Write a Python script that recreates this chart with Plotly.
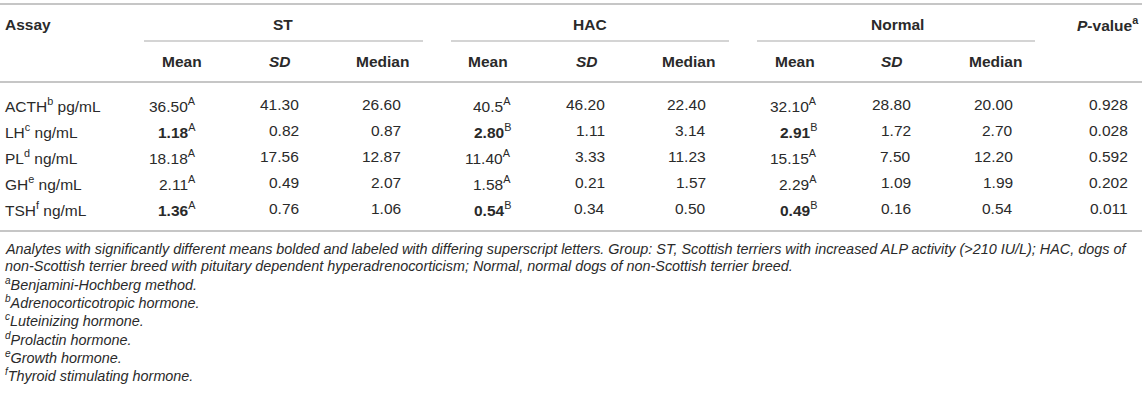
import plotly.graph_objects as go

# table content
assays = ["ACTH", "LH", "PL", "GH", "TSH"]
assay_notes = ["b", "c", "d", "e", "f"]
units = ["pg/mL", "ng/mL", "ng/mL", "ng/mL", "ng/mL"]

groups = ["ST", "HAC", "Normal"]
stats = ["Mean", "SD", "Median"]

st_mean = ["36.50", "1.18", "18.18", "2.11", "1.36"]
st_sd = ["41.30", "0.82", "17.56", "0.49", "0.76"]
st_median = ["26.60", "0.87", "12.87", "2.07", "1.06"]
st_letter = ["A", "A", "A", "A", "A"]
st_bold = [False, True, False, False, True]

hac_mean = ["40.5", "2.80", "11.40", "1.58", "0.54"]
hac_sd = ["46.20", "1.11", "3.33", "0.21", "0.34"]
hac_median = ["22.40", "3.14", "11.23", "1.57", "0.50"]
hac_letter = ["A", "B", "A", "A", "B"]
hac_bold = [False, True, False, False, True]

normal_mean = ["32.10", "2.91", "15.15", "2.29", "0.49"]
normal_sd = ["28.80", "1.72", "7.50", "1.09", "0.16"]
normal_median = ["20.00", "2.70", "12.20", "1.99", "0.54"]
normal_letter = ["A", "B", "A", "A", "B"]
normal_bold = [False, True, False, False, True]

p_values = ["0.928", "0.028", "0.592", "0.202", "0.011"]

footnote_lines = [
    "Analytes with significantly different means bolded and labeled with differing superscript letters. "
    "Group: ST, Scottish terriers with increased ALP activity (>210 IU/L); HAC, dogs of",
    "non-Scottish terrier breed with pituitary dependent hyperadrenocorticism; Normal, normal dogs of non-Scottish terrier breed.",
]
footnote_keys = ["a", "b", "c", "d", "e", "f"]
footnote_texts = ["Benjamini-Hochberg method.", "Adrenocorticotropic hormone.", "Luteinizing hormone.",
                  "Prolactin hormone.", "Growth hormone.", "Thyroid stimulating hormone."]

# layout (pixel units on hidden axes)
W, H = 1146, 401
TXT = "#2a2a2a"
LINE = "#c6c6c6"
FONT = "Liberation Sans, Arial, sans-serif"
FS = 15.5
FS_NOTE = 14.4

group_centers = [283, 590, 897]
group_spans = [(144, 423), (451, 729), (757, 1035)]
stat_centers = [[182, 280, 382], [488, 587, 688], [795, 892, 995]]
stat_rights = [[197, 300, 402], [512, 606, 707], [818, 912, 1014]]
p_center, p_right = 1108, 1129
y_group, y_sub = 24, 61
row_y = [104.5, 130.5, 156.5, 182.5, 208.5]
foot_y = [249, 266, 284, 302, 320, 338.5, 357, 375]

fig = go.Figure()
ann = []


def add(x, y, text, anchor="center", size=FS):
    ann.append(dict(x=x, y=y, xref="x", yref="y", text=text, showarrow=False,
                    xanchor=anchor, yanchor="middle", borderpad=0,
                    font=dict(family=FONT, size=size, color=TXT)))


add(4, y_group, "<b>Assay</b>", "left")
for g, cx in zip(groups, group_centers):
    add(cx, y_group, "<b>" + g + "</b>")
add(p_center, y_group, "<b><i>P</i>-value<sup>a</sup></b>")

for centers in stat_centers:
    for s, cx in zip(stats, centers):
        label = "<b><i>SD</i></b>" if s == "SD" else "<b>" + s + "</b>"
        add(cx, y_sub, label)

for i, y in enumerate(row_y):
    add(4, y, assays[i] + "<sup>" + assay_notes[i] + "</sup> " + units[i], "left")

group_data = [
    (st_mean, st_sd, st_median, st_letter, st_bold),
    (hac_mean, hac_sd, hac_median, hac_letter, hac_bold),
    (normal_mean, normal_sd, normal_median, normal_letter, normal_bold),
]
for (mean, sd, med, letter, bold), rights in zip(group_data, stat_rights):
    for i, y in enumerate(row_y):
        m = "<b>" + mean[i] + "</b>" if bold[i] else mean[i]
        add(rights[0], y, m + "<sup>" + letter[i] + "</sup>", "right")
        add(rights[1], y, sd[i], "right")
        add(rights[2], y, med[i], "right")

for i, y in enumerate(row_y):
    add(p_right, y, p_values[i], "right")

for line, y in zip(footnote_lines, foot_y[:2]):
    add(4, y, "<i>" + line + "</i>", "left", FS_NOTE)
for k, t, y in zip(footnote_keys, footnote_texts, foot_y[2:]):
    add(4, y, "<i><sup>" + k + "</sup>" + t + "</i>", "left", FS_NOTE)

shapes = []
for y in [4, 82, 231]:
    shapes.append(dict(type="line", xref="x", yref="y", x0=0, x1=1142, y0=y, y1=y,
                       line=dict(color=LINE, width=2)))
for x0, x1 in group_spans:
    shapes.append(dict(type="line", xref="x", yref="y", x0=x0, x1=x1, y0=41, y1=41,
                       line=dict(color=LINE, width=1.3)))

fig.update_layout(
    width=W, height=H,
    margin=dict(l=0, r=0, t=0, b=0),
    paper_bgcolor="white", plot_bgcolor="white",
    xaxis=dict(range=[0, W], visible=False, fixedrange=True),
    yaxis=dict(range=[H, 0], visible=False, fixedrange=True),
    annotations=ann, shapes=shapes, showlegend=False,
)

fig.write_html("out.html", config={"displayModeBar": False},
               post_script="document.body.style.margin='0';document.body.style.overflow='hidden';")
